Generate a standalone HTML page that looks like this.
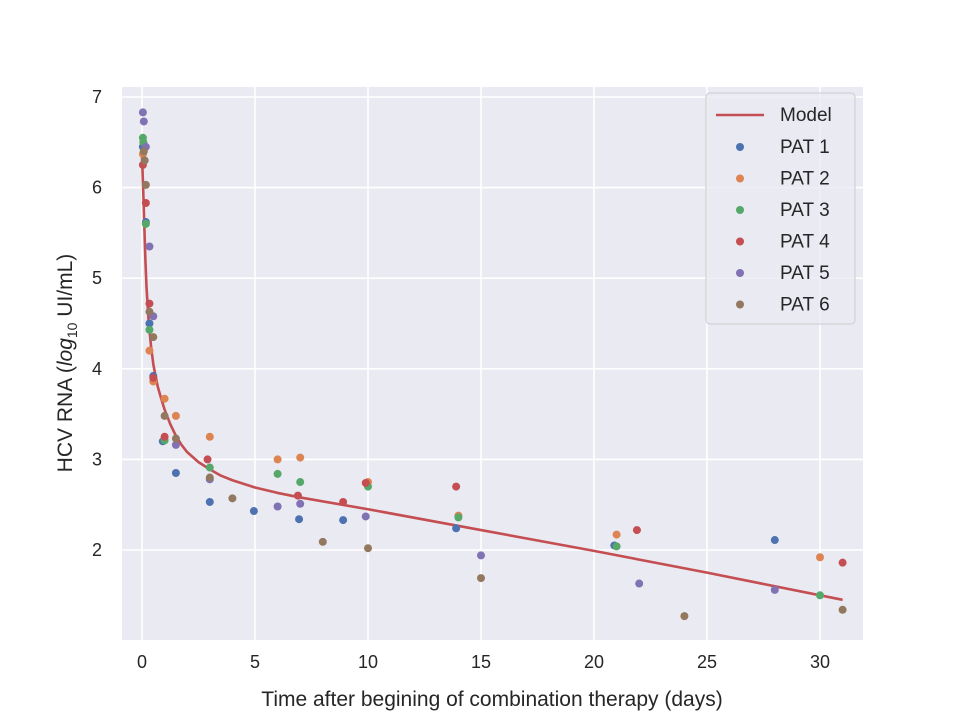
<!DOCTYPE html>
<html><head><meta charset="utf-8"><style>
body{margin:0;background:#fff;font-family:"Liberation Sans","DejaVu Sans",sans-serif}
svg text{font-family:"Liberation Sans","DejaVu Sans",sans-serif;fill:#262626}
</style></head><body>
<svg id="chart" width="960" height="720">
<rect x="122" y="87" width="741" height="553" fill="#eaeaf2"/>
<g id="grid"></g><g id="ticks"></g><g id="marks"></g>
<text x="492" y="706" text-anchor="middle" font-size="21">Time after begining of combination therapy (days)</text>
<text transform="translate(72,363) rotate(-90)" text-anchor="middle" font-size="21">HCV RNA (<tspan font-style="italic">log</tspan><tspan font-size="14" dy="5">10</tspan><tspan dy="-5"> UI/mL)</tspan></text>
<g id="legend"></g>
</svg>
<script>
const xTicks=[0,5,10,15,20,25,30];
const yTicks=[2,3,4,5,6,7];
const seriesNames=["PAT 1","PAT 2","PAT 3","PAT 4","PAT 5","PAT 6"];
const colors=["#4c72b0","#dd8452","#55a868","#c44e52","#8172b3","#937860"];
const pat1=[[0.04,6.45],[0.17,5.62],[0.33,4.5],[0.5,3.92],[0.92,3.2],[1.5,2.85],[3,2.53],[4.95,2.43],[6.95,2.34],[8.9,2.33],[13.9,2.24],[20.9,2.05],[28,2.11]];
const pat2=[[0.04,6.37],[0.17,5.6],[0.33,4.2],[0.5,3.86],[1,3.67],[1.5,3.48],[3,3.25],[6,3.0],[7,3.02],[10,2.75],[14,2.38],[21,2.17],[30,1.92]];
const pat3=[[0.04,6.55],[0.06,6.5],[0.17,5.6],[0.33,4.43],[1,3.21],[3,2.91],[6,2.84],[7,2.75],[10,2.7],[14,2.36],[21,2.04],[30,1.5]];
const pat4=[[0.04,6.25],[0.17,5.83],[0.33,4.72],[0.5,3.9],[1,3.25],[2.9,3.0],[6.9,2.6],[8.9,2.53],[9.9,2.74],[13.9,2.7],[21.9,2.22],[31,1.86]];
const pat5=[[0.04,6.83],[0.08,6.73],[0.17,6.45],[0.33,5.35],[0.5,4.58],[1.5,3.16],[3,2.78],[6,2.48],[7,2.51],[9.9,2.37],[15,1.94],[22,1.63],[28,1.56]];
const pat6=[[0.08,6.4],[0.12,6.3],[0.17,6.03],[0.33,4.63],[0.5,4.35],[1,3.48],[1.5,3.23],[3,2.8],[4,2.57],[8,2.09],[10,2.02],[15,1.69],[24,1.27],[31,1.34]];
const modelT=[0,0.05,0.1,0.15,0.2,0.3,0.4,0.5,0.6,0.7,0.85,1,1.25,1.5,1.75,2,2.5,3,3.5,4,5,6,7,10,15,20,25,31];
const modelV=[6.35,6.0,5.6,5.2,4.9,4.5,4.25,4.05,3.92,3.8,3.67,3.55,3.39,3.26,3.16,3.08,2.97,2.89,2.82,2.77,2.69,2.63,2.58,2.45,2.22,1.99,1.75,1.45];
const series=[pat1,pat2,pat3,pat4,pat5,pat6];
const X=d=>142+(d-0)*22.6;
const Y=v=>97+(7-v)*90.6;
const NS="http://www.w3.org/2000/svg";
function mk(t,a,p){const e=document.createElementNS(NS,t);for(const k in a)e.setAttribute(k,a[k]);p.appendChild(e);return e;}
const grid=document.getElementById('grid'),ticks=document.getElementById('ticks'),marks=document.getElementById('marks'),leg=document.getElementById('legend');
xTicks.forEach(t=>{const l=mk('line',{x1:X(t),x2:X(t),y1:87,y2:640,stroke:'#fff','stroke-width':1.6},grid);

const tx=mk('text',{x:X(t),y:668,'text-anchor':'middle','font-size':18},ticks);tx.textContent=t;
});
yTicks.forEach(t=>{const l=mk('line',{x1:122,x2:863,y1:Y(t),y2:Y(t),stroke:'#fff','stroke-width':1.6},grid);

const tx=mk('text',{x:102,y:Y(t)+6,'text-anchor':'end','font-size':18},ticks);tx.textContent=t;
});
const pl=mk('polyline',{points:modelT.map((t,i)=>X(t)+','+Y(modelV[i])).join(' '),fill:'none',stroke:'#c44e52','stroke-width':2.6,'stroke-linejoin':'round'},marks);

series.forEach((s,i)=>s.forEach(p=>{const c=mk('circle',{cx:X(p[0]),cy:Y(p[1]),r:4,fill:colors[i]},marks);
}));
const box=mk('rect',{x:706,y:93,width:149,height:231,rx:4,fill:'#eaeaf2','fill-opacity':0.8,stroke:'#ccc'},leg);

const ml=mk('line',{x1:716,x2:764,y1:115,y2:115,stroke:'#c44e52','stroke-width':2.6},leg);

const mt=mk('text',{x:780,y:121,'font-size':19},leg);mt.textContent='Model';

seriesNames.forEach((n,i)=>{const y=147+i*31.5;
const c=mk('circle',{cx:740,cy:y,r:4,fill:colors[i]},leg);

const t=mk('text',{x:780,y:y+6,'font-size':19},leg);t.textContent=n;
});
</script>
</body></html>
